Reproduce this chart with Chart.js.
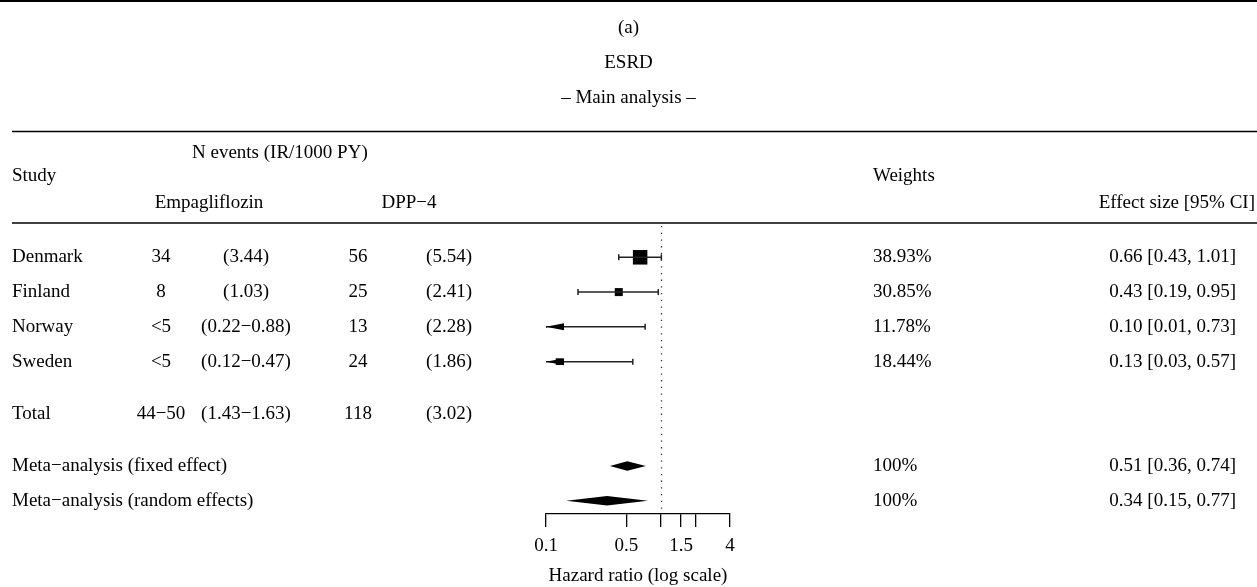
<!DOCTYPE html>
<html><head><meta charset="utf-8">
<script src="https://cdn.jsdelivr.net/npm/chart.js@4"></script>
<style>html,body{margin:0;padding:0;background:#fff}#wrap{position:relative;width:1257px;height:587px}</style>
</head><body><div id="wrap"><canvas id="c"></canvas></div>
<script>
// ---- data ----
const studies = ['Denmark','Finland','Norway','Sweden'];
const empaN = ['34','8','<5','<5'];
const empaIR = ['(3.44)','(1.03)','(0.22−0.88)','(0.12−0.47)'];
const dppN = ['56','25','13','24'];
const dppIR = ['(5.54)','(2.41)','(2.28)','(1.86)'];
const hr = [0.66,0.43,0.10,0.13];
const ciLow = [0.43,0.19,0.01,0.03];
const ciHigh = [1.01,0.95,0.73,0.57];
const weights = ['38.93%','30.85%','11.78%','18.44%'];
const studyRows = [8,7,6,5];
const totalRow = 3.5;
const totalCells = ['Total','44−50','(1.43−1.63)','118','(3.02)'];
const metaLabels = ['Meta−analysis (fixed effect)','Meta−analysis (random effects)'];
const metaHR = [0.51,0.34];
const metaLow = [0.36,0.15];
const metaHigh = [0.74,0.77];
const metaWeights = ['100%','100%'];
const metaRows = [2,1];
const tickValues = [0.1,0.5,1,1.5,2,4];
const tickLabels = ['0.1','0.5','','1.5','','4'];
const titleLines = ['(a)','ESRD','– Main analysis –'];

// ---- styles / layout ----
const FONT = '"Liberation Serif", "Times New Roman", serif';
const FS = 19;
const squareRadius = [10.25, 5.66, 1.4, 4.74];
const fmt = v => v.toFixed(2);

const forestPlugin = {
  id: 'forest',
  beforeDatasetsDraw(chart) {
    const {ctx, scales: {x}, chartArea: a} = chart;
    ctx.save();
    // reference line at HR = 1
    ctx.strokeStyle = '#333'; ctx.lineWidth = 1.3; ctx.setLineDash([1.3, 5.4]);
    const x1 = Math.round(x.getPixelForValue(1)) + 0.5;
    ctx.beginPath(); ctx.moveTo(x1, a.top); ctx.lineTo(x1, a.bottom); ctx.stroke();
    ctx.restore();
  },
  afterDatasetsDraw(chart) {
    const {ctx, scales: {x, y}} = chart;
    ctx.save();
    // confidence intervals
    ctx.strokeStyle = '#222'; ctx.fillStyle = '#000'; ctx.lineWidth = 1.5;
    studyRows.forEach((r, i) => {
      const yy = y.getPixelForValue(r);
      const lo = Math.max(ciLow[i], x.min), hi = Math.min(ciHigh[i], x.max);
      const xl = x.getPixelForValue(lo), xh = x.getPixelForValue(hi);
      ctx.beginPath(); ctx.moveTo(xl, yy); ctx.lineTo(xh, yy); ctx.stroke();
      const cap = 3;
      if (ciLow[i] >= x.min) {
        ctx.beginPath(); ctx.moveTo(xl, yy - cap); ctx.lineTo(xl, yy + cap); ctx.stroke();
      } else {
        ctx.beginPath(); ctx.moveTo(xl, yy); ctx.lineTo(xl + 18, yy - 3.5); ctx.lineTo(xl + 18, yy + 3.5); ctx.closePath(); ctx.fill();
      }
      if (ciHigh[i] <= x.max) {
        ctx.beginPath(); ctx.moveTo(xh, yy - cap); ctx.lineTo(xh, yy + cap); ctx.stroke();
      }
    });
    // summary diamonds
    metaRows.forEach((r, i) => {
      const yy = y.getPixelForValue(r);
      const xl = x.getPixelForValue(metaLow[i]), xm = x.getPixelForValue(metaHR[i]), xh = x.getPixelForValue(metaHigh[i]);
      ctx.beginPath(); ctx.moveTo(xl, yy); ctx.lineTo(xm, yy - 4.8); ctx.lineTo(xh, yy); ctx.lineTo(xm, yy + 4.8); ctx.closePath(); ctx.fill();
    });
    ctx.restore();
  },
  afterDraw(chart) {
    const {ctx, scales: {y}} = chart;
    ctx.save();
    ctx.fillStyle = '#000'; ctx.strokeStyle = '#000';
    ctx.font = FS + 'px ' + FONT; ctx.textBaseline = 'middle';
    const txt = (s, xx, yy, align) => { ctx.textAlign = align; ctx.fillText(s, xx, yy); };
    // rules
    ctx.lineWidth = 2; ctx.beginPath(); ctx.moveTo(0, 1); ctx.lineTo(1257, 1); ctx.stroke();
    ctx.lineWidth = 1.6;
    ctx.beginPath(); ctx.moveTo(12, 131.5); ctx.lineTo(1257, 131.5); ctx.stroke();
    ctx.beginPath(); ctx.moveTo(12, 223); ctx.lineTo(1257, 223); ctx.stroke();
    // titles
    [28, 63, 98].forEach((yy, i) => txt(titleLines[i], 628.5, yy, 'center'));
    // headers
    txt('N events (IR/1000 PY)', 192, 153, 'left');
    txt('Study', 12, 176, 'left');
    txt('Empagliflozin', 209, 203, 'center');
    txt('DPP−4', 409, 203, 'center');
    txt('Weights', 873, 176, 'left');
    txt('Effect size [95% CI]', 1255, 203, 'right');
    // study rows
    studyRows.forEach((r, i) => {
      const yy = y.getPixelForValue(r);
      txt(studies[i], 12, yy, 'left');
      txt(empaN[i], 161, yy, 'center');
      txt(empaIR[i], 246, yy, 'center');
      txt(dppN[i], 358, yy, 'center');
      txt(dppIR[i], 449, yy, 'center');
      txt(weights[i], 873, yy, 'left');
      txt(fmt(hr[i]) + ' [' + fmt(ciLow[i]) + ', ' + fmt(ciHigh[i]) + ']', 1236, yy, 'right');
    });
    // total row
    const ty = y.getPixelForValue(totalRow);
    txt(totalCells[0], 12, ty, 'left');
    txt(totalCells[1], 161, ty, 'center');
    txt(totalCells[2], 246, ty, 'center');
    txt(totalCells[3], 358, ty, 'center');
    txt(totalCells[4], 449, ty, 'center');
    // meta rows
    metaRows.forEach((r, i) => {
      const yy = y.getPixelForValue(r);
      txt(metaLabels[i], 12, yy, 'left');
      txt(metaWeights[i], 873, yy, 'left');
      txt(fmt(metaHR[i]) + ' [' + fmt(metaLow[i]) + ', ' + fmt(metaHigh[i]) + ']', 1236, yy, 'right');
    });
    ctx.restore();
  }
};

new Chart(document.getElementById('c'), {
  type: 'scatter',
  data: {
    datasets: [{
      data: studyRows.map((r, i) => ({x: hr[i], y: r})),
      pointStyle: 'rect',
      pointRadius: squareRadius,
      pointHoverRadius: squareRadius,
      backgroundColor: '#000',
      borderColor: '#000',
      borderWidth: 0
    }]
  },
  options: {
    responsive: true, maintainAspectRatio: false, animation: false, events: [],
    layout: {padding: {left: 546, right: 527, top: 226, bottom: 0}},
    plugins: {legend: {display: false}, tooltip: {enabled: false}},
    scales: {
      x: {
        type: 'logarithmic', min: 0.1, max: 4,
        afterBuildTicks: s => { s.ticks = tickValues.map(v => ({value: v})); },
        afterFit: s => { s.height = 73; },
        ticks: {autoSkip: false, maxRotation: 0, padding: 8, color: '#000',
                font: {family: FONT, size: FS}, callback: (v, i) => tickLabels[i]},
        grid: {drawOnChartArea: false, drawTicks: true, tickLength: 13, color: '#000', lineWidth: 1.3},
        border: {display: true, color: '#000', width: 1.3},
        title: {display: true, text: 'Hazard ratio (log scale)', color: '#000',
                font: {family: FONT, size: FS}, padding: {top: 0, bottom: 0}}
      },
      y: {type: 'linear', min: 0.62, max: 8.9, display: false}
    }
  },
  plugins: [forestPlugin]
});
</script>
</body></html>
